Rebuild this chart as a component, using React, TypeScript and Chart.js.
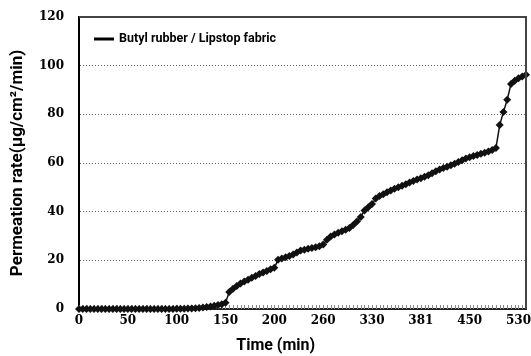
import React, { useEffect, useRef } from 'react';
import { Chart, registerables } from 'chart.js';

Chart.register(...registerables);

const SERIES_NAME = 'Butyl rubber / Lipstop fabric';
const X_TITLE = 'Time (min)';
const Y_TITLE = 'Permeation rate(μg/cm²/min)';
const TICK_LABELS = ['0', '50', '100', '150', '200', '260', '330', '381', '450', '530'];
const POINTS_PER_LABEL = 13;
const Y_MIN = 0;
const Y_MAX = 120;
const Y_STEP = 20;

const RATE = [
  0, 0, 0, 0, 0, 0, 0, 0, 0, 0,
  0, 0, 0, 0, 0, 0, 0, 0, 0, 0,
  0, 0, 0, 0, 0, 0, 0.1, 0.1, 0.1, 0.2,
  0.2, 0.3, 0.4, 0.6, 0.8, 1.0, 1.3, 1.6, 2.0, 2.6,
  7.0, 8.3, 9.5, 10.5, 11.3, 12.0, 12.8, 13.6, 14.4, 15.0,
  15.6, 16.3, 17.0, 20.2, 20.8, 21.3, 21.8, 22.4, 23.2, 24.0,
  24.4, 24.8, 25.1, 25.4, 25.8, 26.5, 28.5, 29.8, 30.6, 31.3,
  32.0, 32.6, 33.3, 34.5, 36.0, 37.8, 40.5, 41.8, 43.2, 45.4,
  46.4, 47.2, 48.0, 48.7, 49.4, 50.0, 50.6, 51.3, 52.0, 52.6,
  53.2, 53.7, 54.3, 55.0, 55.8, 56.6, 57.3, 57.9, 58.5, 59.1,
  59.7, 60.4, 61.1, 61.8, 62.4, 62.9, 63.3, 63.8, 64.2, 64.7,
  65.3, 66.2, 75.6, 81.0, 86.0, 92.5, 93.8, 94.8, 95.5, 96.3,
];

const NARROW = "'Liberation Sans Narrow', 'Arial Narrow', 'Roboto', sans-serif";
const SERIF = "'DejaVu Serif', 'Liberation Serif', serif";

const decorations = {
  id: 'decorations',
  beforeDatasetsDraw(chart: any) {
    const { ctx, chartArea } = chart;
    const xs = chart.scales.x;
    ctx.save();
    ctx.strokeStyle = '#888';
    ctx.lineWidth = 1;
    ctx.beginPath();
    for (let i = 0; i < chart.data.labels.length; i++) {
      const px = Math.round(xs.getPixelForValue(i)) + 0.5;
      ctx.moveTo(px, chartArea.bottom);
      ctx.lineTo(px, chartArea.bottom - 4);
    }
    ctx.stroke();
    ctx.restore();
  },
  afterDraw(chart: any) {
    const { ctx, chartArea } = chart;
    ctx.save();
    // top and right frame
    ctx.strokeStyle = '#444';
    ctx.lineWidth = 2;
    ctx.beginPath();
    ctx.moveTo(chartArea.left, chartArea.top);
    ctx.lineTo(chartArea.right, chartArea.top);
    ctx.lineTo(chartArea.right, chartArea.bottom);
    ctx.stroke();
    // legend
    const ly = chartArea.top + 22;
    const lx = chartArea.left + 15;
    ctx.strokeStyle = '#000';
    ctx.lineWidth = 3;
    ctx.beginPath();
    ctx.moveTo(lx, ly);
    ctx.lineTo(lx + 20, ly);
    ctx.stroke();
    ctx.fillStyle = '#000';
    ctx.font = `bold 12.5px ${NARROW}`;
    ctx.textBaseline = 'middle';
    ctx.textAlign = 'left';
    ctx.fillText(chart.data.datasets[0].label, lx + 25, ly);
    // x title
    ctx.font = `bold 16px ${NARROW}`;
    ctx.textAlign = 'center';
    ctx.fillText(X_TITLE, chartArea.left + (chartArea.right - chartArea.left) * 0.44, chart.height - 10);
    ctx.restore();
  },
};

export default function App() {
  const ref = useRef<HTMLCanvasElement | null>(null);

  useEffect(() => {
    if (!ref.current) return;
    const labels = RATE.map((_, i) =>
      i % POINTS_PER_LABEL === 0 && TICK_LABELS[i / POINTS_PER_LABEL] !== undefined
        ? TICK_LABELS[i / POINTS_PER_LABEL]
        : ''
    );
    const chart = new Chart(ref.current, {
      type: 'line',
      data: {
        labels,
        datasets: [
          {
            label: SERIES_NAME,
            data: RATE,
            borderColor: '#111',
            backgroundColor: '#111',
            borderWidth: 1.5,
            pointStyle: 'rectRot',
            pointRadius: 4,
            pointHoverRadius: 4,
            pointBorderWidth: 0,
            pointBackgroundColor: '#111',
            tension: 0,
            clip: false as any,
          },
        ],
      },
      options: {
        animation: false,
        responsive: false,
        layout: { autoPadding: false, padding: { left: 0, right: 2, top: 17, bottom: 0 } },
        plugins: {
          tooltip: { enabled: false },
          legend: { display: false },
        },
        scales: {
          x: {
            type: 'category',
            offset: false,
            grid: { display: false, drawTicks: false },
            border: { display: true, color: '#222', width: 2 },
            ticks: {
              autoSkip: false,
              maxRotation: 0,
              minRotation: 0,
              padding: 5,
              color: '#000',
              font: { family: SERIF, weight: 'bold', size: 12 },
            },
            title: { display: false },
            afterFit(scale: any) {
              scale.height = 47;
            },
          },
          y: {
            min: Y_MIN,
            max: Y_MAX,
            ticks: {
              stepSize: Y_STEP,
              padding: 15,
              color: '#000',
              font: { family: SERIF, weight: 'bold', size: 12 },
            },
            grid: {
              drawTicks: false,
              color: (ctx: any) =>
                ctx.tick && (ctx.tick.value === Y_MIN || ctx.tick.value === Y_MAX) ? 'rgba(0,0,0,0)' : '#666',
              lineWidth: 1,
            },
            border: { display: true, color: '#000', width: 2, dash: [1, 2] },
            title: {
              display: true,
              text: Y_TITLE,
              color: '#000',
              font: { family: NARROW, weight: 'bold', size: 17 },
              padding: { top: 8, bottom: 0 },
            },
            afterFit(scale: any) {
              scale.width = 79;
              scale.paddingTop = 0;
              scale.paddingBottom = 0;
            },
          },
        },
      },
      plugins: [decorations],
    });
    return () => chart.destroy();
  }, []);

  return (
    <div style={{ position: 'fixed', left: 0, top: 0, width: 531, height: 356, background: '#fff' }}>
      <canvas ref={ref} width={531} height={356} style={{ display: 'block' }} />
    </div>
  );
}
